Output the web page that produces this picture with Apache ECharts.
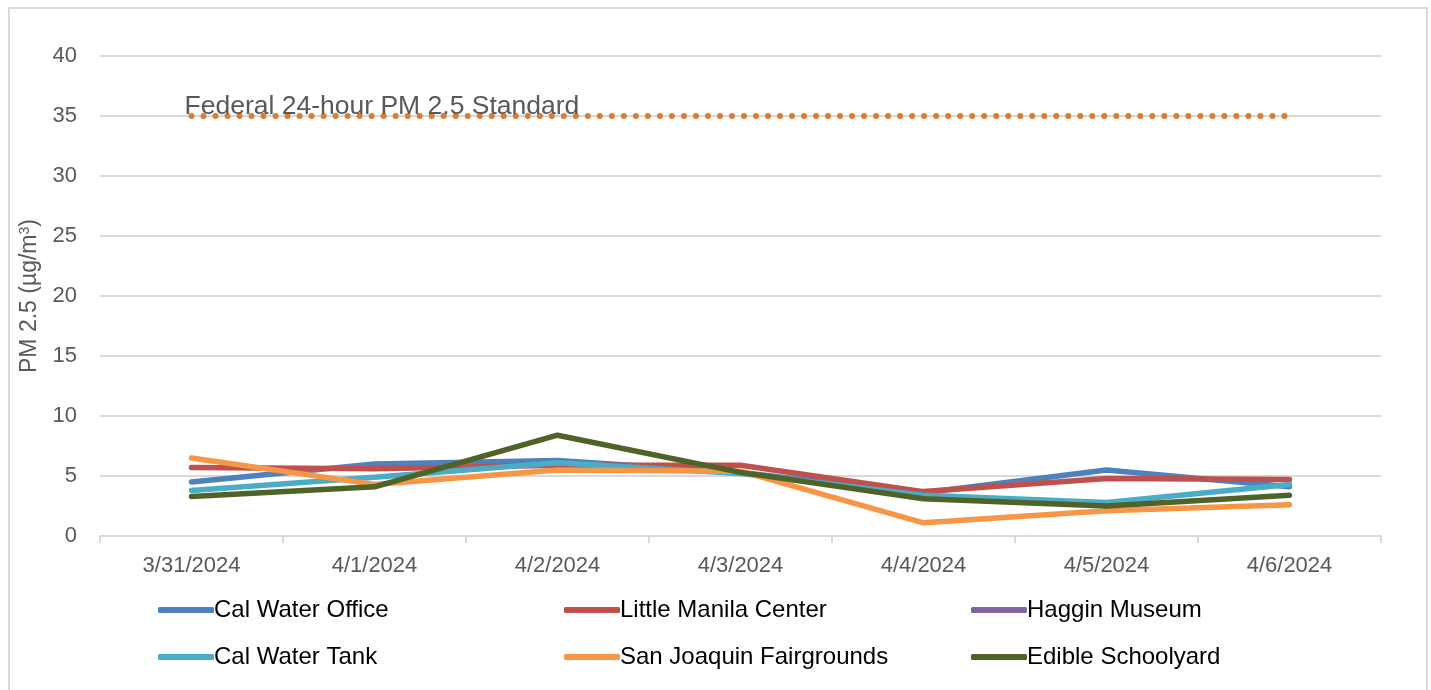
<!DOCTYPE html>
<html>
<head>
<meta charset="utf-8">
<script src="https://cdn.jsdelivr.net/npm/echarts@6/dist/echarts.min.js"></script>
<style>
html,body{margin:0;padding:0;background:#fff;}
#c{width:1431px;height:690px;}
</style>
</head>
<body>
<div id="c"></div>
<script>
const categories = ['3/31/2024','4/1/2024','4/2/2024','4/3/2024','4/4/2024','4/5/2024','4/6/2024'];
const calWaterOffice = [4.5, 6.0, 6.3, 5.3, 3.6, 5.5, 4.1];
const littleManila = [5.7, 5.6, 5.9, 5.9, 3.7, 4.8, 4.7];
const hagginMuseum = [null, null, null, null, null, null, null];
const calWaterTank = [3.8, 4.9, 6.1, 5.2, 3.4, 2.8, 4.3];
const sanJoaquin = [6.5, 4.3, 5.5, 5.4, 1.1, 2.1, 2.6];
const edibleSchoolyard = [3.3, 4.1, 8.4, 5.3, 3.1, 2.5, 3.4];
const federalStandard = [35, 35, 35, 35, 35, 35, 35];
const standardLabel = 'Federal 24-hour PM 2.5 Standard';
const yTicks = {min: 0, max: 40, interval: 5};

const seriesDefs = [
  {name: 'Cal Water Office', data: calWaterOffice, color: '#4F81BD'},
  {name: 'Little Manila Center', data: littleManila, color: '#C0504D'},
  {name: 'Haggin Museum', data: hagginMuseum, color: '#8064A2'},
  {name: 'Cal Water Tank', data: calWaterTank, color: '#4BACC6'},
  {name: 'San Joaquin Fairgrounds', data: sanJoaquin, color: '#F79646'},
  {name: 'Edible Schoolyard', data: edibleSchoolyard, color: '#4F6228'}
];

const font = '"Liberation Sans", Arial, sans-serif';
const chart = echarts.init(document.getElementById('c'));

const legendPos = [
  {left: 153, top: 593}, {left: 559, top: 593}, {left: 966, top: 593},
  {left: 153, top: 640}, {left: 559, top: 640}, {left: 966, top: 640}
];

const series = seriesDefs.map(s => ({
  name: s.name,
  type: 'line',
  data: s.data,
  showSymbol: false,
  symbol: 'none',
  smooth: false,
  color: s.color,
  lineStyle: {width: 5.5, color: s.color, cap: 'round', join: 'round'},
  emphasis: {disabled: true},
  z: 3
}));

series.unshift({
  name: 'Federal Standard',
  type: 'line',
  data: federalStandard,
  showSymbol: false,
  symbol: 'none',
  color: '#E07A2E',
  lineStyle: {width: 6, color: '#E07A2E', type: [0.01, 12], cap: 'round'},
  markPoint: {
    silent: true,
    symbol: 'circle',
    symbolSize: 0,
    itemStyle: {color: 'transparent'},
    data: [{coord: [categories[0], federalStandard[0]], value: standardLabel}],
    label: {
      show: true, formatter: standardLabel, position: 'top', align: 'left',
      distance: 0, offset: [-7, 4],
      color: '#595959', fontSize: 26.5, fontFamily: font
    }
  },
  emphasis: {disabled: true},
  silent: true,
  z: 2
});

chart.setOption({
  animation: false,
  backgroundColor: '#fff',
  graphic: [{
    type: 'rect', shape: {x: 9, y: 8, width: 1418, height: 700},
    style: {fill: 'none', stroke: '#d9d9d9', lineWidth: 2}, silent: true
  }],
  grid: {left: 100, right: 50, top: 56, bottom: 154},
  legend: seriesDefs.map((s, i) => ({
    data: [s.name],
    left: legendPos[i].left, top: legendPos[i].top,
    orient: 'horizontal',
    icon: 'roundRect',
    itemWidth: 56, itemHeight: 6, itemGap: 0,
    selectedMode: false,
    textStyle: {color: '#000', fontSize: 24, fontFamily: font, padding: [0, 0, 0, -5]}
  })),
  xAxis: {
    type: 'category',
    data: categories,
    boundaryGap: true,
    axisLine: {show: true, lineStyle: {color: '#d9d9d9', width: 2}},
    axisTick: {show: true, length: 7, lineStyle: {color: '#d9d9d9', width: 2}},
    axisLabel: {color: '#595959', fontSize: 22, fontFamily: font, margin: 19}
  },
  yAxis: {
    type: 'value',
    min: yTicks.min, max: yTicks.max, interval: yTicks.interval,
    name: 'PM 2.5 (µg/m{sup|3})',
    nameLocation: 'middle',
    nameRotate: 90,
    nameGap: 56,
    nameTextStyle: {
      color: '#595959', fontSize: 23, fontFamily: font,
      rich: {sup: {fontSize: 14, verticalAlign: 'top', color: '#595959', fontFamily: font, padding: [0,0,9,0]}}
    },
    axisLine: {show: false},
    axisTick: {show: false},
    splitLine: {lineStyle: {color: '#d9d9d9', width: 2}},
    axisLabel: {color: '#595959', fontSize: 22, fontFamily: font, margin: 23}
  },
  series: series
});
</script>
</body>
</html>
